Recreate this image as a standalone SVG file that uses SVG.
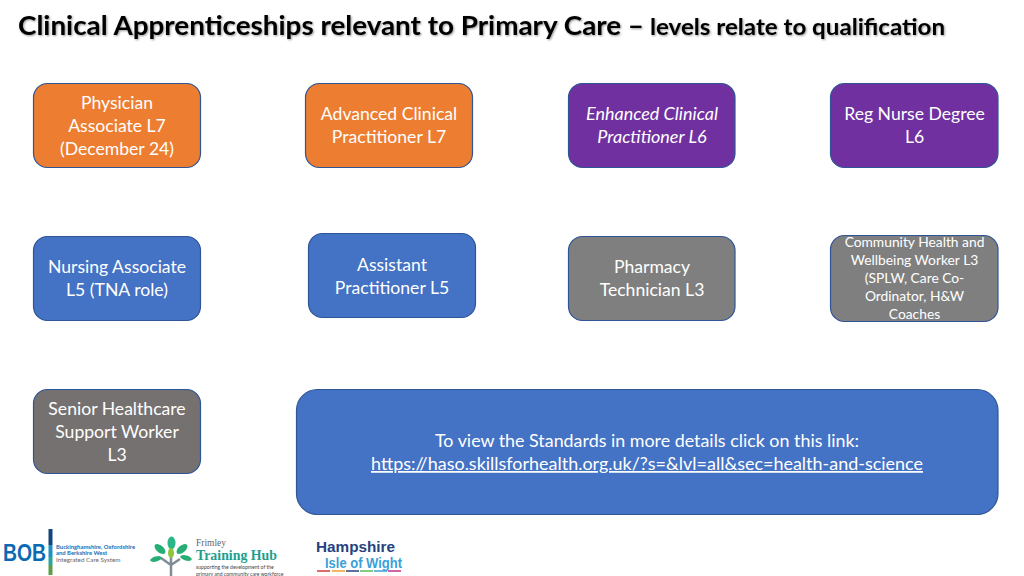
<svg xmlns="http://www.w3.org/2000/svg" width="1024" height="576" viewBox="0 0 1024 576">
<defs><filter id="sh" x="-2%" y="-20%" width="104%" height="140%"><feDropShadow dx="1" dy="1" stdDeviation="0.8" flood-color="#000" flood-opacity="0.4"/></filter></defs>
<style>
text{font-family:Lato,"Open Sans","Liberation Sans",sans-serif}
.n{stroke:#2f5597;stroke-width:1.2}
.t{fill:#fff;font-size:17.6px;text-anchor:middle}
.s{fill:#fff;font-size:13.8px;text-anchor:middle}
.o{fill:#ed7d31}.p{fill:#7030a0}.b{fill:#4472c4}.g{fill:#7f7f7f}.w{fill:#767171}
.h{font-weight:700;fill:#000}
</style>
<rect width="1024" height="576" fill="#fff"/>
<g id="title" filter="url(#sh)"><text class="h" x="18" y="35" font-size="27.5px" textLength="626" lengthAdjust="spacingAndGlyphs">Clinical Apprenticeships relevant to Primary Care –</text><text class="h" x="650" y="35" font-size="22px" textLength="295" lengthAdjust="spacingAndGlyphs">levels relate to qualification</text></g>
<g id="connectors"/>
<g id="physician"><rect class="n o" x="33.500" y="83.500" width="167" height="84" rx="14"/><text class="t" x="117" y="108.500">Physician</text><text class="t" x="117" y="131.500">Associate L7</text><text class="t" x="117" y="154.500">(December 24)</text></g>
<g id="acp"><rect class="n o" x="305.500" y="83.500" width="167" height="84" rx="14"/><text class="t" x="389" y="120">Advanced Clinical</text><text class="t" x="389" y="143">Practitioner L7</text></g>
<g id="ecp"><rect class="n p" x="568.500" y="83.500" width="166.500" height="84" rx="14"/><text class="t" x="652" y="120" font-style="italic" style="font-size:18px">Enhanced Clinical</text><text class="t" x="652" y="143" font-style="italic" style="font-size:18px">Practitioner L6</text></g>
<g id="rnd"><rect class="n p" x="830.500" y="83.500" width="167.500" height="84" rx="14"/><text class="t" x="914.500" y="120">Reg Nurse Degree</text><text class="t" x="914.500" y="143">L6</text></g>
<g id="na"><rect class="n b" x="33.500" y="236.500" width="167" height="84" rx="14"/><text class="t" x="117" y="273">Nursing Associate</text><text class="t" x="117" y="296">L5 (TNA role)</text></g>
<g id="ap"><rect class="n b" x="308.500" y="233.500" width="167" height="84" rx="14"/><text class="t" x="392" y="270.500">Assistant</text><text class="t" x="392" y="293.500">Practitioner L5</text></g>
<g id="pt"><rect class="n g" x="568.500" y="236.500" width="166.500" height="84" rx="14"/><text class="t" x="652" y="273">Pharmacy</text><text class="t" x="652" y="296">Technician L3</text></g>
<g id="chw"><rect class="n g" x="830.500" y="235.500" width="167.500" height="86" rx="14"/><text class="s" x="914.500" y="247">Community Health and</text><text class="s" x="914.500" y="265">Wellbeing Worker L3</text><text class="s" x="914.500" y="283">(SPLW, Care Co-</text><text class="s" x="914.500" y="301">Ordinator, H&amp;W</text><text class="s" x="914.500" y="319">Coaches</text></g>
<g id="shsw"><rect class="n w" x="33.500" y="389.500" width="167" height="84" rx="14"/><text class="t" x="117" y="414.500">Senior Healthcare</text><text class="t" x="117" y="437.500">Support Worker</text><text class="t" x="117" y="460.500">L3</text></g>
<g id="link"><rect class="n b" x="296.500" y="389.500" width="701.500" height="125" rx="21"/><text class="t" x="647" y="447" textLength="424" lengthAdjust="spacingAndGlyphs">To view the Standards in more details click on this link:</text><text class="t" x="647" y="470" text-decoration="underline" textLength="552" lengthAdjust="spacingAndGlyphs">https://haso.skillsforhealth.org.uk/?s=&amp;lvl=all&amp;sec=health-and-science</text></g>
<g id="bob">
<text x="3" y="561" font-size="24px" font-weight="700" fill="#0a6ab4" textLength="43" lengthAdjust="spacingAndGlyphs" style="font-family:'Liberation Sans',sans-serif">BOB</text>
<rect x="48.500" y="529" width="4" height="16" fill="#12457a"/><rect x="48.500" y="545" width="4" height="12" fill="#1f8fc4"/><rect x="48.500" y="557" width="4" height="8" fill="#2aa79b"/><rect x="48.500" y="565" width="4" height="10" fill="#5e9e4b"/>
<g font-size="5.900px" font-weight="700" fill="#1670b8"><text x="56" y="548.500">Buckinghamshire, Oxfordshire</text><text x="56" y="554.500">and Berkshire West</text></g><text x="56" y="561.500" font-size="6.300px" fill="#666">Integrated Care System</text></g>
<g id="frimley">
<path d="M171 576V557M171 565L161 558M171 565L180 559" stroke="#7f8c95" stroke-width="2.500" fill="none"/>
<g fill="#27ae74"><ellipse cx="171.500" cy="543" rx="4" ry="6.500" fill="#2db58a"/><ellipse cx="160" cy="549" rx="6.500" ry="3.500" transform="rotate(40 160 549)"/><ellipse cx="182" cy="549" rx="6.500" ry="3.500" transform="rotate(-40 182 549)"/><ellipse cx="156" cy="559" rx="6" ry="2.500" transform="rotate(-15 156 559)"/><ellipse cx="186" cy="558" rx="6" ry="2.500" transform="rotate(15 186 558)"/><ellipse cx="171" cy="553" rx="3" ry="5" fill="#8cc63f"/></g>
<text x="196" y="546" font-size="9.500px" fill="#666" style="font-family:'Liberation Serif',serif">Frimley</text>
<text x="196" y="560" font-size="14px" font-weight="700" fill="#1f9f8a" textLength="81" lengthAdjust="spacingAndGlyphs" style="font-family:'Liberation Serif',serif">Training Hub</text>
<text x="196" y="569" font-size="5.100px" fill="#444">supporting the development of the</text><text x="196" y="575.500" font-size="5.100px" fill="#444">primary and community care workforce</text></g>
<g id="hiow">
<text x="316" y="552" font-size="15px" font-weight="700" fill="#27407e" textLength="79" lengthAdjust="spacingAndGlyphs" style="font-family:'Liberation Sans',sans-serif">Hampshire</text>
<text x="325" y="568" font-size="14.500px" font-weight="700" fill="#3aa0d8" textLength="77" lengthAdjust="spacingAndGlyphs" style="font-family:'Liberation Sans',sans-serif">Isle of Wight</text>
<g stroke-width="1.500"><path d="M317 571h13" stroke="#d63a3a"/><path d="M332 571h13" stroke="#f0a030"/><path d="M346 571h13" stroke="#27407e"/><path d="M360 571h13" stroke="#5cb85c"/><path d="M374 571h13" stroke="#3aa0d8"/><path d="M388 571h13" stroke="#c2308a"/></g></g>
</svg>
